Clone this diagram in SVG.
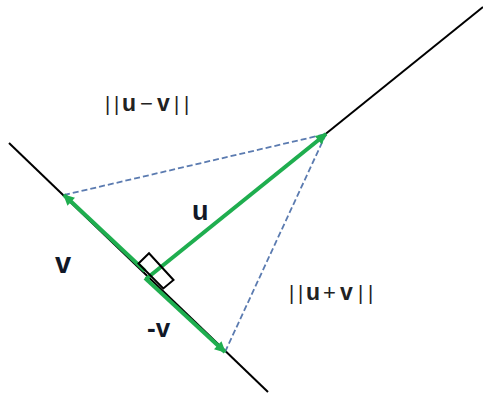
<svg xmlns="http://www.w3.org/2000/svg" width="483" height="395" viewBox="0 0 483 395">
<defs>
<style>
.axis{stroke:#000;stroke-width:2;fill:none}
.vec{stroke:#1fae4f;stroke-width:4;fill:none;marker-end:url(#ah)}
.dash{stroke:#5b7bb0;stroke-width:1.8;stroke-dasharray:6 3;fill:none}
.lbl{font-family:"Liberation Sans",Arial,sans-serif;font-weight:bold;fill:#111827}
.norm{font-family:"Liberation Sans",Arial,sans-serif;fill:#222;font-size:20px}
.b{font-weight:bold;font-size:23px}
</style>
<marker id="ah" viewBox="0 0 10 10" refX="9" refY="5" markerWidth="13" markerHeight="11" markerUnits="userSpaceOnUse" orient="auto">
<path d="M0,0 L10,5 L0,10 Z" fill="#1fae4f"/>
</marker>
</defs>
<rect width="483" height="395" fill="#fff"/>
<g id="lines">
<line class="axis" x1="9" y1="143" x2="268" y2="392"/>
<line class="axis" x1="147" y1="278" x2="483" y2="7"/>
</g>
<g id="connectors">
<line class="dash" x1="64" y1="195" x2="326" y2="134"/>
<line class="dash" x1="326" y1="134" x2="225" y2="352"/>
<line class="vec" x1="145" y1="271" x2="64" y2="195"/>
<line class="vec" x1="145" y1="278" x2="225" y2="352"/>
<line class="vec" x1="146" y1="279" x2="326" y2="134"/>
</g>
<g id="right-angle">
<polygon points="138.5,263.5 149,253.3 173.5,280 163.3,288.5" fill="none" stroke="#000" stroke-width="2"/>
</g>
<g id="labels">
<text class="lbl" x="192" y="220" font-size="27">u</text>
<text class="lbl" x="55" y="273" font-size="29">v</text>
<text class="lbl" x="147" y="337" font-size="26">-v</text>
<text class="norm" y="111"><tspan x="105">|</tspan><tspan x="114">|</tspan><tspan x="122" class="b">u</tspan><tspan x="140" font-size="22">−</tspan><tspan x="157" class="b">v</tspan><tspan x="174">|</tspan><tspan x="184">|</tspan></text>
<text class="norm" y="300"><tspan x="289">|</tspan><tspan x="298">|</tspan><tspan x="306" class="b">u</tspan><tspan x="323" font-size="22">+</tspan><tspan x="340" class="b">v</tspan><tspan x="358">|</tspan><tspan x="368">|</tspan></text>
</g>
</svg>
